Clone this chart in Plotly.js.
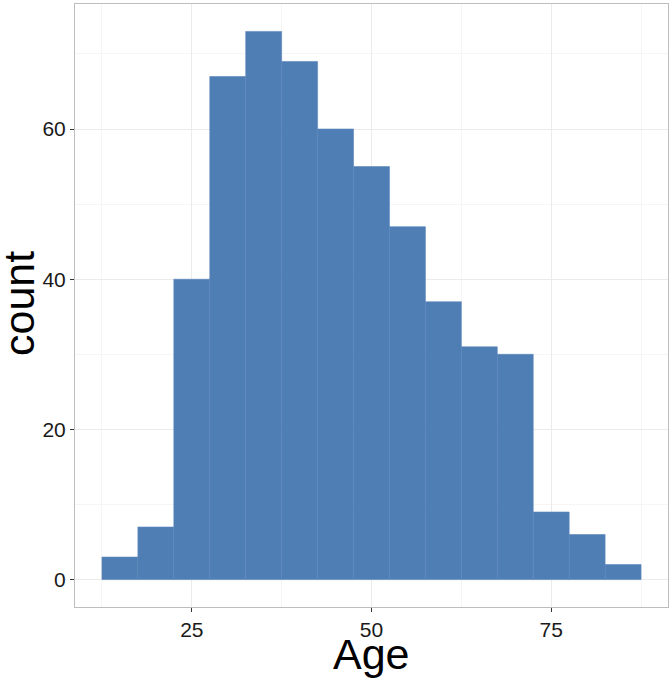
<!DOCTYPE html>
<html>
<head>
<meta charset="utf-8">
<script src="https://cdn.plot.ly/plotly-3.0.1.min.js"></script>
<style>
  html, body { margin: 0; padding: 0; background: #ffffff; }
  #chart { width: 672px; height: 684px; }
</style>
</head>
<body>
<div id="chart"></div>
<script>
// age histogram, bins of width 5 centred on these ages
const binCenters = [15, 20, 25, 30, 35, 40, 45, 50, 55, 60, 65, 70, 75, 80, 85];
const counts = [3, 7, 40, 67, 73, 69, 60, 55, 47, 37, 31, 30, 9, 6, 2];
const binWidth = 5;

const xTicks = [25, 50, 75];
const yTicks = [0, 20, 40, 60];

const font = 'Liberation Sans, Arial, Helvetica, sans-serif';

const trace = {
  type: 'bar',
  x: binCenters,
  y: counts,
  width: binCenters.map(() => binWidth),
  marker: { color: '#4f7eb5', line: { color: '#5b87bb', width: 0.6 } },
  hoverinfo: 'x+y',
};

const axisBase = {
  showline: true,
  mirror: true,
  linecolor: '#bdbdbd',
  linewidth: 1,
  zeroline: false,
  ticks: 'outside',
  ticklen: 4,
  tickwidth: 1,
  tickcolor: '#333333',
  gridcolor: '#ebebeb',
  gridwidth: 1,
  tickfont: { family: font, size: 21, color: '#1a1a1a' },
};

// axis titles as annotations so they sit where the reference has them
const titleFont = { family: font, size: 43, color: '#000000' };

const layout = {
  width: 672,
  height: 684,
  paper_bgcolor: '#ffffff',
  plot_bgcolor: '#ffffff',
  margin: { l: 75, r: 4, t: 4, b: 77 },
  showlegend: false,
  bargap: 0,
  xaxis: {
    ...axisBase,
    range: [8.75, 91.25],
    tickmode: 'array',
    tickvals: xTicks,
    ticktext: xTicks.map(String),
    minor: { tickvals: [12.5, 37.5, 62.5, 87.5], showgrid: true, gridcolor: '#f5f5f5', ticks: '' },
  },
  yaxis: {
    ...axisBase,
    range: [-3.65, 76.65],
    tickmode: 'array',
    tickvals: yTicks,
    ticktext: yTicks.map(String),
    minor: { tickvals: [10, 30, 50, 70], showgrid: true, gridcolor: '#f5f5f5', ticks: '' },
  },
  annotations: [
    {
      text: 'Age', font: titleFont, showarrow: false,
      xref: 'paper', yref: 'paper', x: (371 - 75) / 593, y: (607 - 654) / 603,
      xanchor: 'center', yanchor: 'middle',
    },
    {
      text: 'count', font: titleFont, showarrow: false, textangle: -90,
      xref: 'paper', yref: 'paper', x: (19 - 75) / 593, y: (607 - 304) / 603,
      xanchor: 'center', yanchor: 'middle',
    },
  ],
};

Plotly.newPlot('chart', [trace], layout, { displayModeBar: false, staticPlot: true });
</script>
</body>
</html>
